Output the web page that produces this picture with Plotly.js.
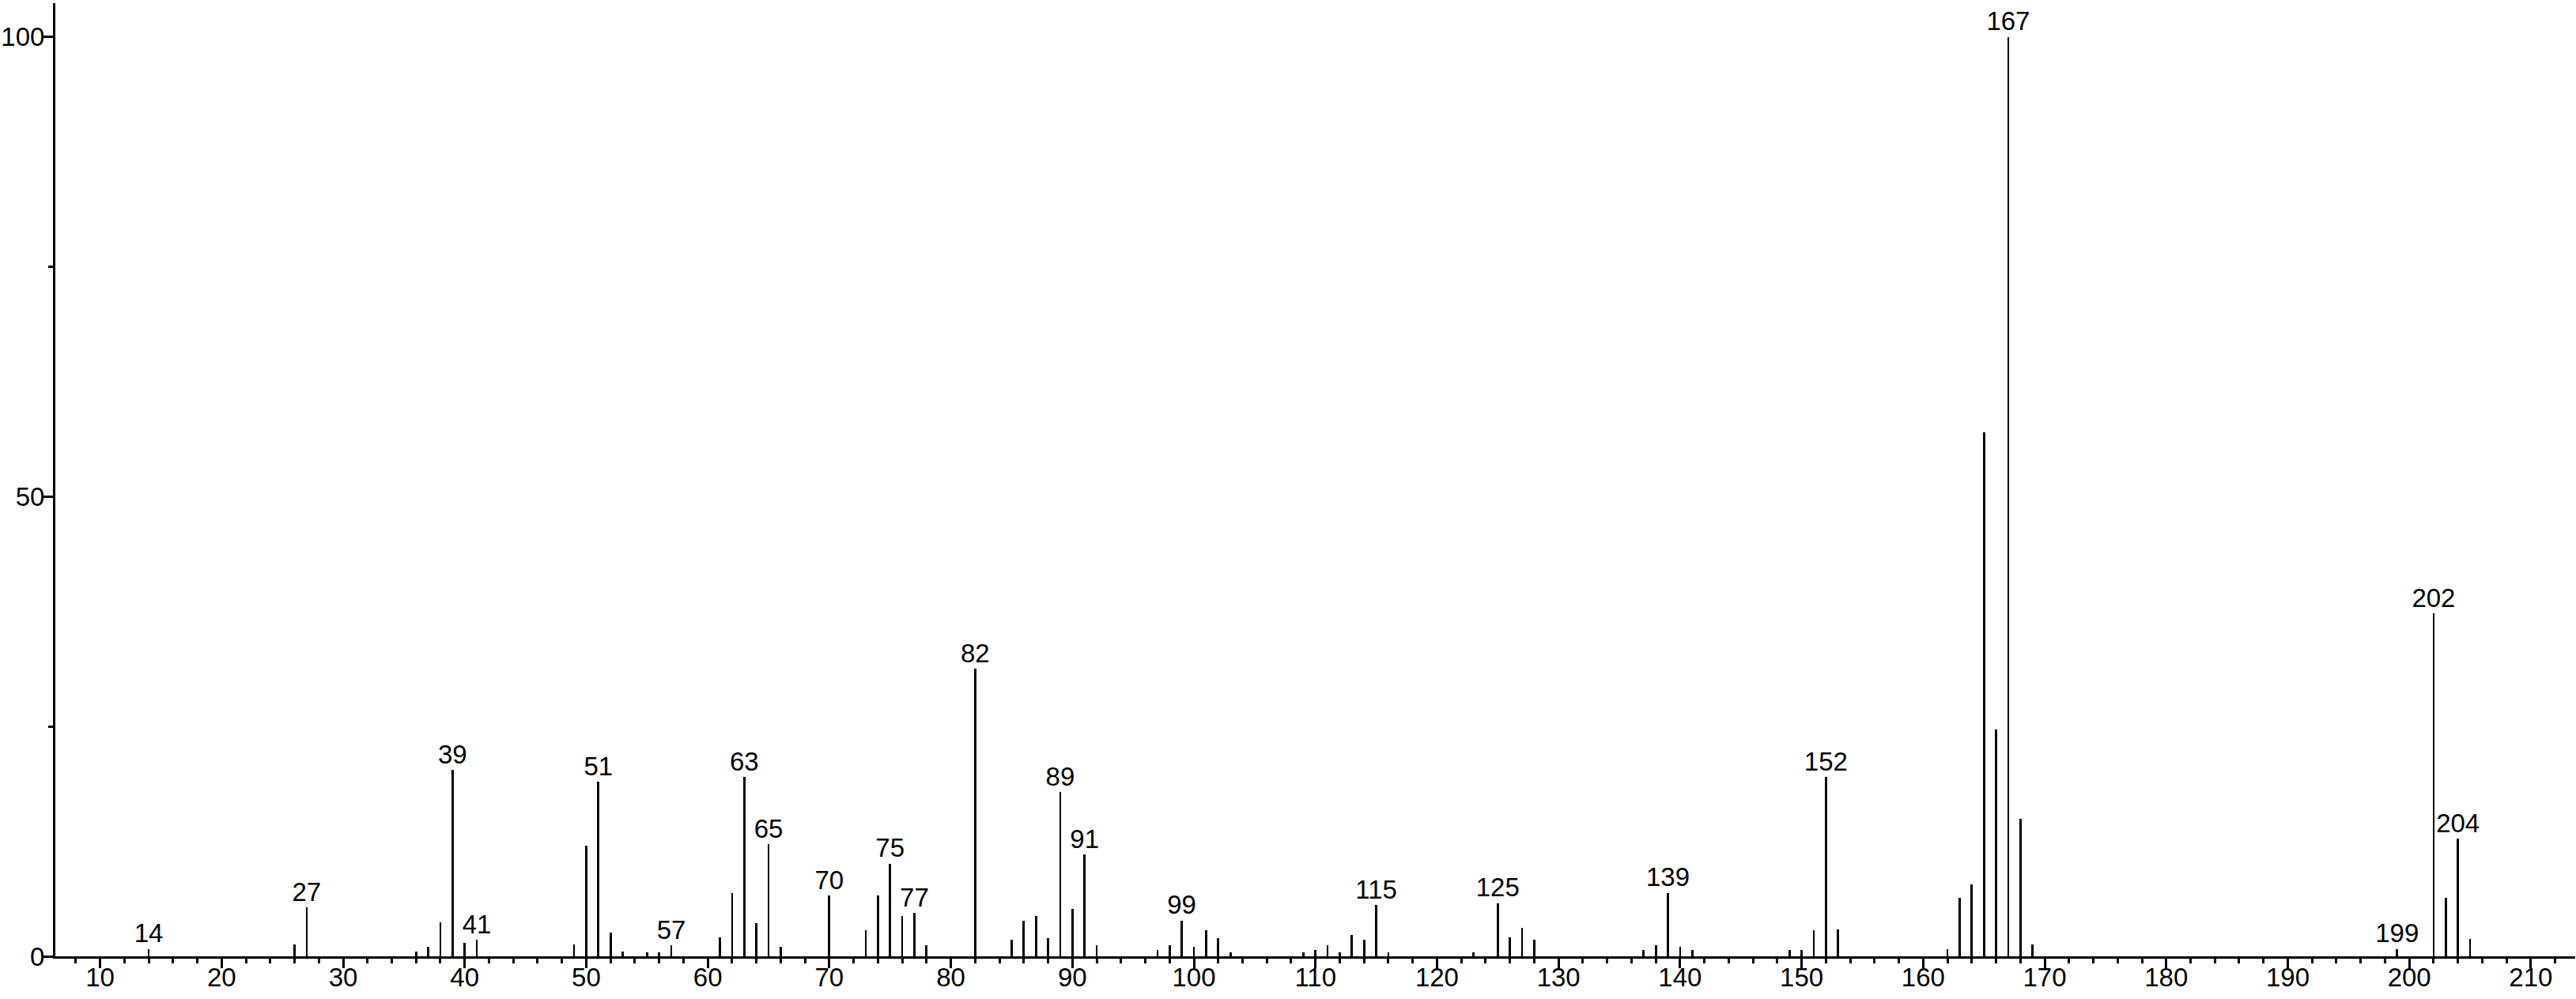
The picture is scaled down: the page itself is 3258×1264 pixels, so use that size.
<!DOCTYPE html>
<html>
<head>
<meta charset="utf-8">
<script src="https://cdn.plot.ly/plotly-3.0.1.min.js"></script>
<style>
  html, body { margin: 0; padding: 0; background: #ffffff; }
  #chart { width: 3258px; height: 1264px; }
</style>
</head>
<body>
<div id="chart"></div>
<script>
// m/z values of the peaks
const mz = [14,26,27,36,37,38,39,40,41,49,50,51,52,53,55,56,57,61,62,63,64,65,66,70,
            73,74,75,76,77,78,82,85,86,87,88,89,90,91,92,97,98,99,100,101,102,103,
            109,110,111,112,113,114,115,116,123,125,126,127,128,137,138,139,140,141,
            149,150,151,152,153,162,163,164,165,166,167,168,169,199,202,203,204,205];
// relative intensities (%)
const intensity = [0.8,1.3,5.3,0.5,1.0,3.7,20.3,1.5,1.8,1.3,12.0,19.0,2.6,0.5,0.4,0.4,1.2,2.1,6.9,19.5,3.6,12.2,1.0,6.6,
                   2.8,6.6,10.1,4.4,4.7,1.2,31.3,1.8,3.9,4.4,2.0,17.9,5.2,11.1,1.2,0.7,1.2,3.9,1.0,2.8,2.0,0.4,
                   0.4,0.7,1.2,0.4,2.3,1.8,5.6,0.4,0.4,5.8,2.1,3.1,1.8,0.7,1.2,6.9,1.0,0.7,
                   0.7,0.7,2.8,19.5,2.9,0.8,6.4,7.8,57.0,24.7,100,15.0,1.3,0.8,37.3,6.4,12.8,1.9];
// peaks that carry a label
const labeledMz = [14,27,39,41,51,57,63,65,70,75,77,82,89,91,99,115,125,139,152,167,199,202,204];

const labelY = labeledMz.map(m => intensity[mz.indexOf(m)]);
const labelText = labeledMz.map(m => String(m));

const FONT = "Liberation Sans, Arial, Helvetica, sans-serif";

const traces = [
  {
    type: 'bar',
    x: mz,
    y: intensity,
    width: 0.18,
    marker: { color: '#000000', line: { width: 0 } },
    hoverinfo: 'x+y',
    showlegend: false
  },
  {
    type: 'scatter',
    mode: 'text',
    x: labeledMz,
    y: labelY,
    text: labelText,
    textposition: 'top center',
    textfont: { family: FONT, size: 33, color: '#000000' },
    cliponaxis: false,
    hoverinfo: 'skip',
    showlegend: false
  }
];

const layout = {
  width: 3258,
  height: 1264,
  margin: { l: 70, r: 1, t: 4, b: 54, pad: 0 },
  paper_bgcolor: '#ffffff',
  plot_bgcolor: '#ffffff',
  font: { family: FONT, size: 33, color: '#000000' },
  bargap: 0,
  xaxis: {
    range: [6.32, 213.65],
    showgrid: false,
    zeroline: false,
    showline: true,
    linecolor: '#000000',
    linewidth: 3,
    ticks: 'outside',
    tick0: 0,
    dtick: 10,
    ticklen: 12,
    tickwidth: 3,
    tickcolor: '#000000',
    ticklabelstandoff: -17,
    tickfont: { family: FONT, size: 33, color: '#000000' },
    minor: { dtick: 2, tick0: 0, ticks: 'outside', ticklen: 6, tickwidth: 3, tickcolor: '#000000', showgrid: false },
    fixedrange: true
  },
  yaxis: {
    range: [0, 103.67],
    showgrid: false,
    zeroline: false,
    showline: true,
    linecolor: '#000000',
    linewidth: 3,
    ticks: 'outside',
    tick0: 0,
    dtick: 50,
    ticklen: 12,
    tickwidth: 3,
    tickcolor: '#000000',
    ticklabelstandoff: -8,
    tickfont: { family: FONT, size: 33, color: '#000000' },
    minor: { dtick: 25, tick0: 0, ticks: 'outside', ticklen: 6, tickwidth: 3, tickcolor: '#000000', showgrid: false },
    fixedrange: true
  }
};

Plotly.newPlot('chart', traces, layout, { displayModeBar: false, staticPlot: true });
</script>
</body>
</html>
